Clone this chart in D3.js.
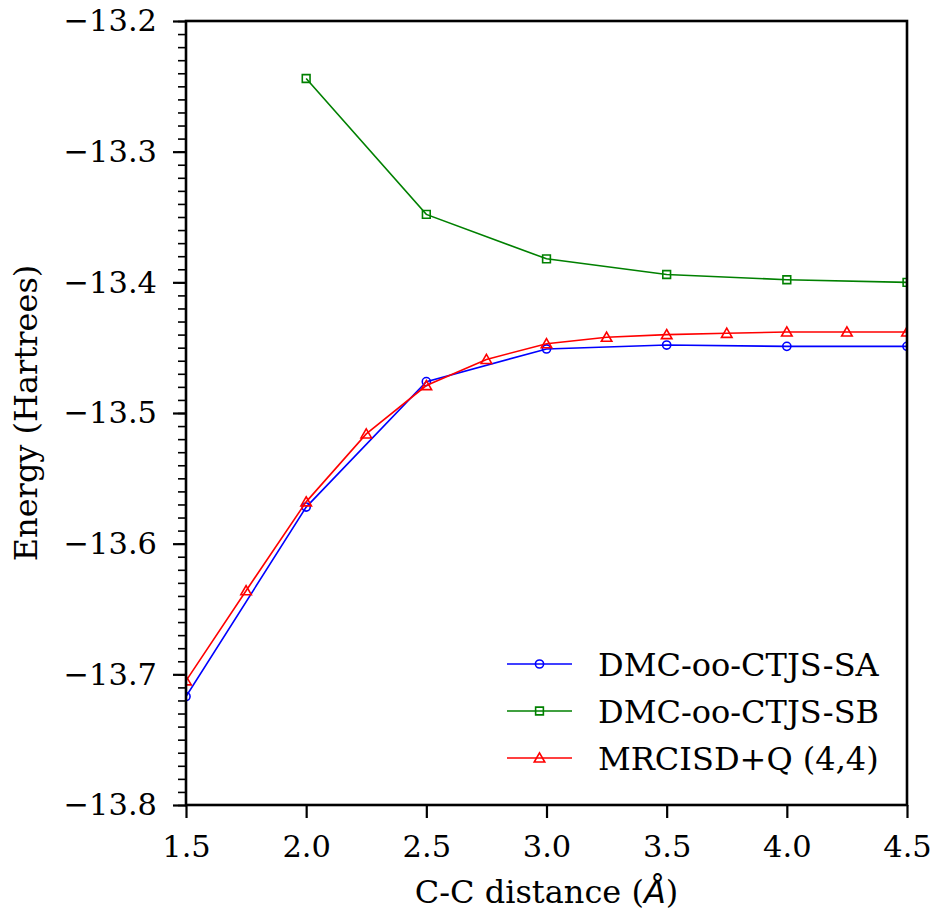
<!DOCTYPE html>
<html>
<head>
<meta charset="utf-8">
<script src="https://cdn.jsdelivr.net/npm/d3@7"></script>
<style>
  body { margin: 0; background: #fff; }
  svg text { font-family: "DejaVu Serif", serif; fill: #000; }
</style>
</head>
<body>
<div id="chart"></div>
<script>
// data
let xSA = [1.5, 2.0, 2.5, 3.0, 3.5, 4.0, 4.5]
let ySA = [-13.717, -13.572, -13.476, -13.451, -13.448, -13.449, -13.449]

let xSB = [2.0, 2.5, 3.0, 3.5, 4.0, 4.5]
let ySB = [-13.244, -13.348, -13.382, -13.394, -13.398, -13.400]

let xMR = [1.5, 1.75, 2.0, 2.25, 2.5, 2.75, 3.0, 3.25, 3.5, 3.75, 4.0, 4.25, 4.5]
let yMR = [-13.705, -13.636, -13.568, -13.516, -13.479, -13.459, -13.447, -13.442, -13.440, -13.439, -13.438, -13.438, -13.438]

let xTicks = [1.5, 2.0, 2.5, 3.0, 3.5, 4.0, 4.5]
let yTicks = [-13.8, -13.7, -13.6, -13.5, -13.4, -13.3, -13.2]

let seriesNames = ["DMC-oo-CTJS-SA", "DMC-oo-CTJS-SB", "MRCISD+Q (4,4)"]

let width = 934,
    height = 913
let margin = { top: 21, right: 27, bottom: 108, left: 186 }
let w = width - margin.left - margin.right
let h = height - margin.top - margin.bottom
let tickFont = 30.5
let labelFont = 32

let series = [
    { name: seriesNames[0], color: "#0000ff", symbol: "circle", data: xSA.map((x, i) => [x, ySA[i]]) },
    { name: seriesNames[1], color: "#008000", symbol: "square", data: xSB.map((x, i) => [x, ySB[i]]) },
    { name: seriesNames[2], color: "#ff0000", symbol: "triangle", data: xMR.map((x, i) => [x, yMR[i]]) }
]

let xScale = d3.scaleLinear().domain([1.5, 4.5]).range([0, w])
let yScale = d3.scaleLinear().domain([-13.8, -13.2]).range([h, 0])

let svg = d3.select("#chart").append("svg")
    .attr("width", width)
    .attr("height", height)

let g = svg.append("g")
    .attr("transform", "translate(" + margin.left + "," + margin.top + ")")

// minor y ticks every 0.01
let minor = d3.range(0, 61).map(i => -13.8 + i * 0.01)
let yMinor = d3.axisLeft(yScale).tickValues(minor).tickSize(8).tickFormat("")
g.append("g").call(yMinor)
    .call(a => a.select(".domain").remove())
    .selectAll("line").attr("stroke-width", 1.6)

let yAxis = d3.axisLeft(yScale).tickValues(yTicks).tickSize(13).tickPadding(16)
    .tickFormat(d3.format(".1f"))
g.append("g").call(yAxis)
    .call(a => a.select(".domain").remove())
    .call(a => a.selectAll("line").attr("stroke-width", 2.2))
    .call(a => a.selectAll("text").style("font-size", tickFont + "px"))

let xAxis = d3.axisBottom(xScale).tickValues(xTicks).tickSize(13).tickPadding(17)
    .tickFormat(d3.format(".1f"))
g.append("g").attr("transform", "translate(0," + h + ")").call(xAxis)
    .call(a => a.select(".domain").remove())
    .call(a => a.selectAll("line").attr("stroke-width", 2.2))
    .call(a => a.selectAll("text").style("font-size", tickFont + "px"))

// clip so markers at the edges are cut like in the figure
svg.append("defs").append("clipPath").attr("id", "clip")
    .append("rect").attr("width", w).attr("height", h)

let plot = g.append("g").attr("clip-path", "url(#clip)")

let line = d3.line()
    .x(d => xScale(d[0]))
    .y(d => yScale(d[1]))

let symbolSize = { circle: 52, square: 60, triangle: 48 }

function symbolPath(s) {
    let type = s === "circle" ? d3.symbolCircle : s === "square" ? d3.symbolSquare : d3.symbolTriangle
    return d3.symbol().type(type).size(symbolSize[s])()
}

series.forEach(function (s) {
    plot.append("path")
        .datum(s.data)
        .attr("d", line)
        .attr("fill", "none")
        .attr("stroke", s.color)
        .attr("stroke-width", 1.6)

    plot.selectAll(null)
        .data(s.data)
        .enter().append("path")
        .attr("transform", d => "translate(" + xScale(d[0]) + "," + (yScale(d[1]) + (s.symbol === "triangle" ? 1 : 0)) + ")")
        .attr("d", symbolPath(s.symbol))
        .attr("fill", "none")
        .attr("stroke", s.color)
        .attr("stroke-width", 1.6)
})

// frame
g.append("rect")
    .attr("width", w).attr("height", h)
    .attr("fill", "none")
    .attr("stroke", "#000")
    .attr("stroke-width", 2.6)

// legend
let legend = g.append("g")
    .attr("transform", "translate(" + (507 - margin.left) + "," + (664 - margin.top) + ")")
    .selectAll("g")
    .data(series)
    .enter().append("g")
    .attr("transform", (d, i) => "translate(0," + i * 47 + ")")

legend.append("line")
    .attr("x1", 0).attr("x2", 65)
    .attr("stroke", d => d.color)
    .attr("stroke-width", 1.6)

legend.append("path")
    .attr("transform", d => "translate(32.5," + (d.symbol === "triangle" ? 1 : 0) + ")")
    .attr("d", d => symbolPath(d.symbol))
    .attr("fill", "none")
    .attr("stroke", d => d.color)
    .attr("stroke-width", 1.6)

legend.append("text")
    .attr("x", 91)
    .attr("dy", "0.36em")
    .style("font-size", labelFont + "px")
    .text(d => d.name)

// axis titles
let xTitle = svg.append("text")
    .attr("x", margin.left + w / 2)
    .attr("y", 903)
    .attr("text-anchor", "middle")
    .style("font-size", labelFont + "px")
xTitle.append("tspan").text("C-C distance (")
xTitle.append("tspan").style("font-family", "'DejaVu Sans', sans-serif").style("font-style", "italic").text("Å")
xTitle.append("tspan").text(")")

svg.append("text")
    .attr("transform", "translate(37," + (margin.top + h / 2) + ") rotate(-90)")
    .attr("text-anchor", "middle")
    .style("font-size", labelFont + "px")
    .text("Energy (Hartrees)")
</script>
</body>
</html>
